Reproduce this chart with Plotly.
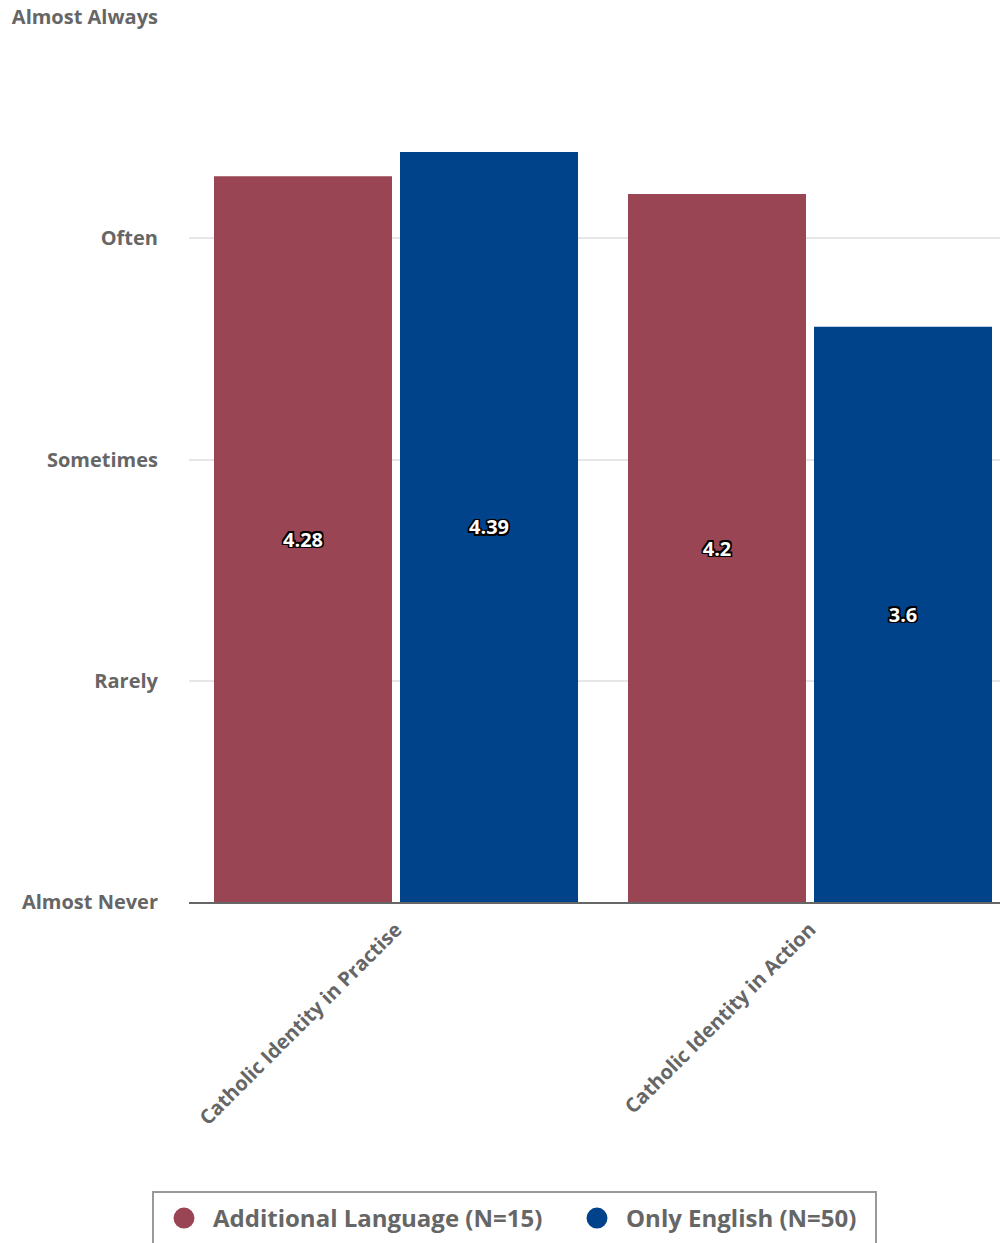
import plotly.graph_objects as go

categories = ["Catholic Identity in Practise", "Catholic Identity in Action"]
series_names = ["Additional Language (N=15)", "Only English (N=50)"]
additional_language = [4.28, 4.2]
only_english = [4.39, 3.6]
tick_values = [1, 2, 3, 4, 5]
tick_labels = ["Almost Never", "Rarely", "Sometimes", "Often", "Almost Always"]
colors = ["#9a4553", "#01438a"]
scale_floor = 1

FONT = "Open Sans, sans-serif"
label_shadow = ("-1.5px -1.5px 0 #000, 1.5px -1.5px 0 #000, -1.5px 1.5px 0 #000, 1.5px 1.5px 0 #000, "
                "0 1.5px 0 #000, 0 -1.5px 0 #000, 1.5px 0 0 #000, -1.5px 0 0 #000")

H = 1235
BODY = 8
PLOT_L, PLOT_R, PLOT_T, PLOT_B = 189, 1016, 17, 902  # page pixels


def px_x(page_x):
    return (page_x - PLOT_L) / (PLOT_R - PLOT_L)


def px_y(page_y):
    return (PLOT_B - page_y) / (PLOT_B - PLOT_T)


fig = go.Figure()
for name, vals, col in zip(series_names, [additional_language, only_english], colors):
    fig.add_trace(go.Bar(
        x=categories, y=[v - scale_floor for v in vals], base=scale_floor, name=name,
        marker=dict(color=col, line=dict(width=0)),
        text=[str(v) for v in vals], textposition="inside", insidetextanchor="middle",
        textangle=0,
        textfont=dict(family=FONT, size=20, color="white", weight=700, shadow=label_shadow),
        showlegend=False, hoverinfo="x+text+name",
    ))
# legend entries with circle markers
for name, col in zip(series_names, colors):
    fig.add_trace(go.Scatter(
        x=[None], y=[None], mode="markers", name=name,
        marker=dict(symbol="circle", size=16, color=col, line=dict(color=col, width=5)),
        showlegend=True,
    ))

# legend frame
fig.add_shape(
    type="rect", xref="paper", yref="paper",
    x0=px_x(153), x1=px_x(876), y0=px_y(1192), y1=px_y(1262),
    line=dict(color="#999999", width=2), fillcolor="rgba(0,0,0,0)", layer="above",
)

fig.update_layout(
    width=1008, height=H,
    margin=dict(l=PLOT_L - BODY, r=0, t=PLOT_T - BODY, b=H - (PLOT_B - BODY), autoexpand=False),
    paper_bgcolor="white", plot_bgcolor="white",
    barmode="group", bargap=0.1014, bargroupgap=0.043,
    font=dict(family=FONT, color="#666666"),
    legend=dict(
        orientation="h", xref="container", yref="container",
        x=(155 - BODY) / 1008, xanchor="left", y=1 - (1196 - BODY) / H, yanchor="top",
        borderwidth=0, bgcolor="rgba(0,0,0,0)",
        font=dict(family=FONT, size=24, color="#666666", weight=700),
        itemsizing="trace", tracegroupgap=0, itemwidth=48, entrywidth=350,
    ),
)
fig.update_xaxes(
    range=[-0.5, -0.5 + (PLOT_R - PLOT_L) / 414], tickangle=-45, showgrid=False,
    showline=True, linecolor="#666666", linewidth=2,
    ticks="", ticklabelstandoff=6,
    tickfont=dict(family=FONT, size=20, color="#666666", weight=700),
    fixedrange=True,
)
fig.update_yaxes(
    range=[1, 5], tickvals=tick_values, ticktext=tick_labels,
    showgrid=True, gridcolor="#e6e6e6", gridwidth=2, zeroline=False,
    ticks="", ticklabelstandoff=30, ticklabeloverflow="allow",
    tickfont=dict(family=FONT, size=20, color="#666666", weight=700),
    fixedrange=True,
)

fig.write_html("out.html")
